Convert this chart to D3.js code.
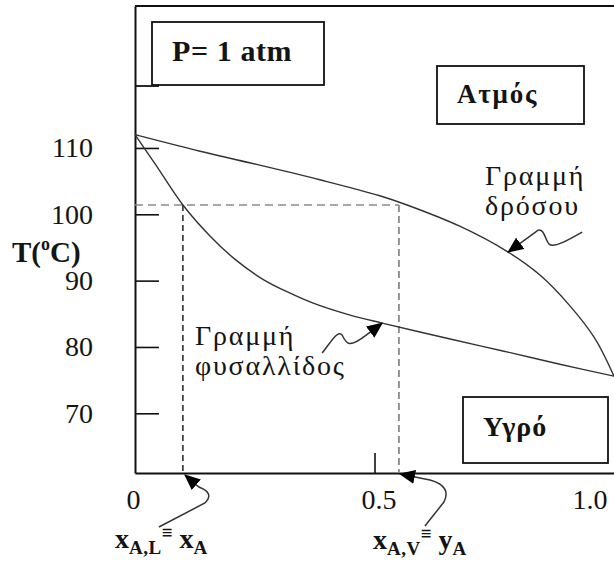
<!DOCTYPE html>
<html>
<head>
<meta charset="utf-8">
<script src="https://cdn.jsdelivr.net/npm/d3@7"></script>
<style>
  body { margin: 0; background: #fff; }
  svg text { font-family: "Liberation Serif", "Times New Roman", "DejaVu Serif", serif; fill: #141414; }
</style>
</head>
<body>
<div id="chart"></div>
<script>
// temperature ticks and composition ticks
const tTicks = [70, 80, 90, 100, 110];
const xTicks = [0, 0.5, 1.0];
const xTickLabels = ["0", "0.5", "1.0"];

// bubble line (liquid)
const bubbleX = [0, 0.042, 0.100, 0.157, 0.209, 0.267, 0.324, 0.372, 0.449, 0.516, 0.658, 0.768, 0.887, 1.0];
const bubbleT = [112, 107.6, 101.4, 96.7, 93.2, 90.2, 88.1, 86.6, 84.8, 83.6, 81.2, 79.4, 77.4, 75.6];

// dew line (vapour)
const dewX = [0, 0.136, 0.267, 0.386, 0.511, 0.568, 0.678, 0.779, 0.846, 0.908, 0.960, 1.0];
const dewT = [112, 109.5, 107.3, 105.2, 102.8, 101.4, 98.2, 94.3, 90.8, 86.2, 81.3, 75.6];

// tie line at the boiling temperature
const tieT = 101.4;
const xLiquid = 0.10;
const xVapor = 0.551;

var myApp = {};
myApp.margins = {top: 6, bottom: 89, left: 135, right: 0};
myApp.cw = 479;
myApp.ch = 467;
myApp.serif = "'Liberation Serif', 'Times New Roman', 'DejaVu Serif', serif";

myApp.run = function () {
    let svg = d3.select("#chart").append("svg")
        .attr("width", 614).attr("height", 562)
        .attr("font-family", myApp.serif);

    let x = d3.scaleLinear().domain([0, 1]).range([myApp.margins.left, myApp.margins.left + myApp.cw]);
    let y = d3.scaleLinear().domain([61, 131.4]).range([myApp.margins.top + myApp.ch, myApp.margins.top]);

    // y axis (ticks point inward)
    let yAxisG = svg.append("g")
        .attr("transform", "translate(" + x(0) + ",0)")
        .call(d3.axisLeft(y).tickValues(tTicks).tickSizeInner(-24).tickSizeOuter(0).tickPadding(42));
    yAxisG.attr("font-family", myApp.serif);
    yAxisG.select(".domain").attr("stroke", "#111").attr("stroke-width", 2);
    yAxisG.selectAll(".tick line").attr("stroke", "#111").attr("stroke-width", 1.6);
    yAxisG.selectAll(".tick text").attr("font-size", 28).attr("fill", "#1a1a2a");

    // x axis
    let xAxisG = svg.append("g")
        .attr("transform", "translate(0," + y(61) + ")")
        .call(d3.axisBottom(x).tickValues(xTicks).tickSizeInner(-20).tickSizeOuter(0).tickPadding(16)
            .tickFormat((d, i) => xTickLabels[i]));
    xAxisG.attr("font-family", myApp.serif);
    xAxisG.select(".domain").attr("stroke", "#111").attr("stroke-width", 2);
    xAxisG.selectAll(".tick line").attr("stroke", "#111").attr("stroke-width", 1.6)
        .attr("display", d => (d === 0.5 ? null : "none"));
    xAxisG.selectAll(".tick text").attr("font-size", 28).attr("fill", "#1a1a2a")
        .attr("text-anchor", d => (d === 1 ? "end" : "middle"))
        .attr("x", d => (d === 1 ? -7 : d === 0.5 ? 4 : -2));

    // top border
    svg.append("line")
        .attr("x1", x(0)).attr("x2", x(1))
        .attr("y1", y(131.4)).attr("y2", y(131.4))
        .attr("stroke", "#111").attr("stroke-width", 2);

    // dashed tie line construction
    svg.append("line")
        .attr("x1", x(0)).attr("x2", x(xVapor))
        .attr("y1", y(tieT)).attr("y2", y(tieT))
        .attr("stroke", "#8a8a8a").attr("stroke-width", 1.6).attr("stroke-dasharray", "8,5");
    svg.append("line")
        .attr("x1", x(xVapor)).attr("x2", x(xVapor))
        .attr("y1", y(tieT)).attr("y2", y(61))
        .attr("stroke", "#8a8a8a").attr("stroke-width", 1.8).attr("stroke-dasharray", "7,4");
    svg.append("line")
        .attr("x1", x(xLiquid)).attr("x2", x(xLiquid))
        .attr("y1", y(tieT)).attr("y2", y(61))
        .attr("stroke", "#111").attr("stroke-width", 1.4).attr("stroke-dasharray", "6,4");

    // curves
    const line = d3.line()
        .x(d => x(d[0]))
        .y(d => y(d[1]))
        .curve(d3.curveCatmullRom.alpha(0.5));
    svg.append("path")
        .datum(bubbleX.map((v, i) => [v, bubbleT[i]]))
        .attr("d", line)
        .attr("fill", "none").attr("stroke", "#333").attr("stroke-width", 1.4);
    svg.append("path")
        .datum(dewX.map((v, i) => [v, dewT[i]]))
        .attr("d", line)
        .attr("fill", "none").attr("stroke", "#333").attr("stroke-width", 1.4);

    // arrow head marker
    svg.append("defs").append("marker")
        .attr("id", "head")
        .attr("viewBox", "0 0 16 14")
        .attr("refX", 15).attr("refY", 7)
        .attr("markerWidth", 16).attr("markerHeight", 14)
        .attr("markerUnits", "userSpaceOnUse")
        .attr("orient", "auto")
        .append("path").attr("d", "M0,0 L16,7 L0,14 z").attr("fill", "#000");

    function squiggle(tx, ty, d) {
        svg.append("path")
            .attr("transform", "translate(" + tx + "," + ty + ")")
            .attr("d", d)
            .attr("fill", "none").attr("stroke", "#333").attr("stroke-width", 1.5)
            .attr("marker-end", "url(#head)");
    }
    squiggle(x(xLiquid) + 2, y(61) + 2, "M-26,52 L20,28 Q30,18 14,12 L0,0");
    squiggle(x(xVapor) + 1, y(61) + 1, "M25,52 L44,28 Q52,12 30,6 L0,0");
    squiggle(x(bubbleX[9]), y(bubbleT[9]), "M-60,30 C-52,20 -44,6 -40,12 C-36,20 -34,26 -16,12 L0,0");
    squiggle(x(dewX[7]), y(dewT[7]), "M74,-20 C60,-12 46,-4 41,-8 C37,-12 36,-24 30,-22 L0,0");

    // boxed labels
    function box(x0, y0, w, h, label, tx, ty, fs, ls) {
        svg.append("rect").attr("x", x0).attr("y", y0).attr("width", w).attr("height", h)
            .attr("fill", "#fff").attr("stroke", "#111").attr("stroke-width", 1.8);
        svg.append("text").attr("x", tx).attr("y", ty)
            .attr("font-size", fs).attr("font-weight", "bold")
            .attr("letter-spacing", ls).text(label);
    }
    box(152, 22, 172, 63, "P= 1 atm", 172, 61, 30, 0.6);
    svg.append("line").attr("x1", x(0)).attr("x2", 159).attr("y1", 86).attr("y2", 86)
        .attr("stroke", "#111").attr("stroke-width", 1.8);
    box(437, 66, 147, 58, "Ατμός", 457, 103, 27, 1.8);
    box(463, 397, 145, 66, "Υγρό", 483, 436, 28, 1);

    // curve names
    function twoLines(tx, ty, a, b) {
        let t = svg.append("text").attr("x", tx).attr("y", ty)
            .attr("font-size", 28).attr("fill", "#1a1a2a").attr("letter-spacing", 1.8);
        t.append("tspan").attr("x", tx).text(a);
        t.append("tspan").attr("x", tx).attr("dy", 30).text(b);
    }
    twoLines(485, 185, "Γραμμή", "δρόσου");
    twoLines(195, 345, "Γραμμή", "φυσαλλίδος");

    // axis title
    let tt = svg.append("text").attr("x", 12).attr("y", 262)
        .attr("font-size", 29).attr("font-weight", "bold");
    tt.append("tspan").text("T(");
    tt.append("tspan").attr("font-size", 18).attr("dy", -12).text("o");
    tt.append("tspan").attr("dy", 12).text("C)");

    // composition labels under the axis
    function compLabel(tx, ty, main, sub, main2, sub2) {
        let t = svg.append("text").attr("x", tx).attr("y", ty)
            .attr("font-size", 28).attr("font-weight", "bold");
        t.append("tspan").text(main);
        t.append("tspan").attr("font-size", 19).attr("dy", 6).attr("letter-spacing", 0.5).text(sub);
        t.append("tspan").attr("font-size", 19).attr("dy", -15).text("≡");
        t.append("tspan").attr("dy", 9).text(" " + main2);
        t.append("tspan").attr("font-size", 19).attr("dy", 6).text(sub2);
    }
    compLabel(115, 548, "x", "A,L", "x", "A");
    compLabel(373, 549, "x", "A,V", "y", "A");
};

window.onload = myApp.run;
</script>
</body>
</html>
